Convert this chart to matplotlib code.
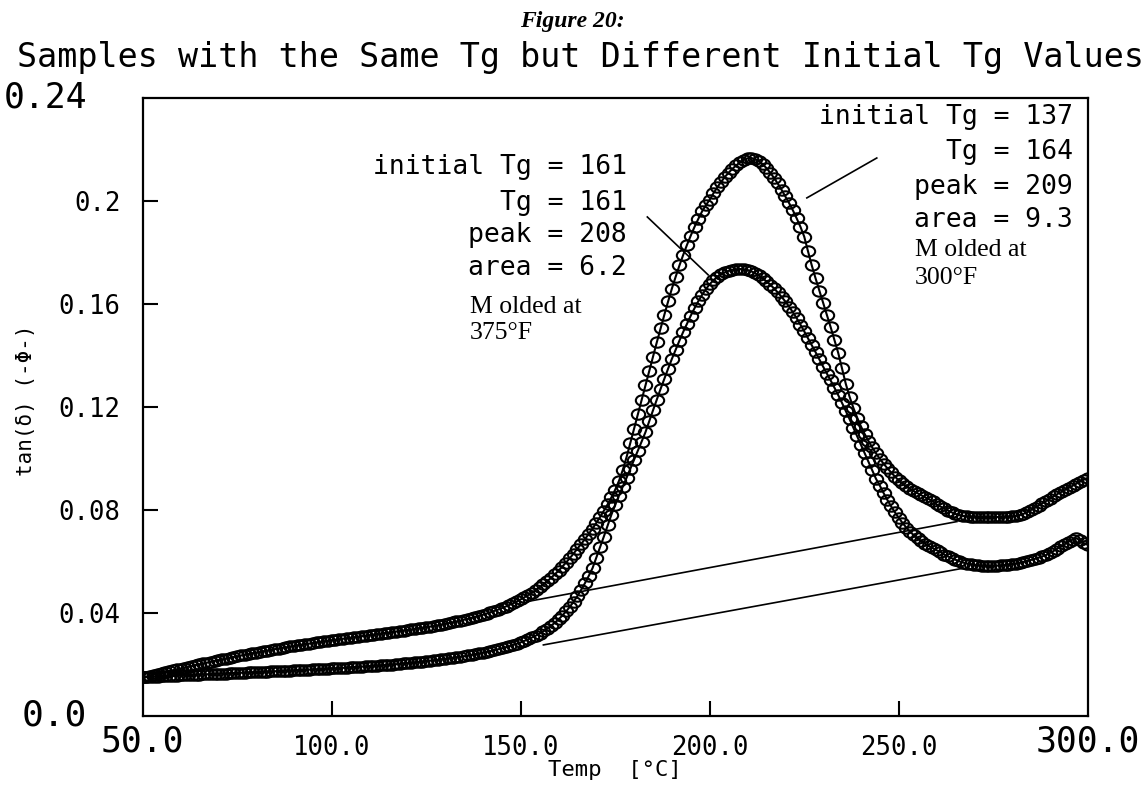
import matplotlib
matplotlib.use("Agg")
import matplotlib.pyplot as plt
from matplotlib.path import Path
from matplotlib.markers import MarkerStyle
from matplotlib.transforms import Affine2D

# ---------------- data ----------------
temp_c = list(range(50, 301))

# initial Tg = 137, molded at 300F (upper curve)
tan_delta_300F = [
    0.0150, 0.0153, 0.0157, 0.0160, 0.0164, 0.0167, 0.0171, 0.0174, 0.0178, 0.0181,  # 50
    0.0184, 0.0188, 0.0191, 0.0194, 0.0198, 0.0201, 0.0204, 0.0207, 0.0211, 0.0214,  # 60
    0.0217, 0.0220, 0.0223, 0.0226, 0.0229, 0.0232, 0.0235, 0.0238, 0.0241, 0.0244,  # 70
    0.0246, 0.0249, 0.0252, 0.0254, 0.0257, 0.0260, 0.0262, 0.0265, 0.0267, 0.0270,  # 80
    0.0272, 0.0274, 0.0277, 0.0279, 0.0281, 0.0283, 0.0286, 0.0288, 0.0290, 0.0292,  # 90
    0.0294, 0.0296, 0.0298, 0.0300, 0.0302, 0.0304, 0.0306, 0.0308, 0.0310, 0.0312,  # 100
    0.0314, 0.0316, 0.0318, 0.0320, 0.0322, 0.0324, 0.0326, 0.0328, 0.0330, 0.0332,  # 110
    0.0334, 0.0336, 0.0338, 0.0340, 0.0343, 0.0345, 0.0347, 0.0350, 0.0352, 0.0355,  # 120
    0.0358, 0.0361, 0.0364, 0.0367, 0.0370, 0.0374, 0.0377, 0.0381, 0.0385, 0.0389,  # 130
    0.0393, 0.0398, 0.0403, 0.0408, 0.0413, 0.0419, 0.0425, 0.0431, 0.0438, 0.0445,  # 140
    0.0453, 0.0461, 0.0470, 0.0479, 0.0489, 0.0500, 0.0511, 0.0523, 0.0536, 0.0550,  # 150
    0.0564, 0.0580, 0.0596, 0.0613, 0.0631, 0.0650, 0.0668, 0.0687, 0.0707, 0.0728,  # 160
    0.0750, 0.0773, 0.0797, 0.0822, 0.0849, 0.0879, 0.0913, 0.0955, 0.1005, 0.1060,  # 170
    0.1116, 0.1172, 0.1228, 0.1284, 0.1340, 0.1396, 0.1451, 0.1505, 0.1558, 0.1610,  # 180
    0.1660, 0.1706, 0.1750, 0.1791, 0.1830, 0.1866, 0.1900, 0.1931, 0.1960, 0.1984,  # 190
    0.2005, 0.2030, 0.2053, 0.2074, 0.2093, 0.2110, 0.2125, 0.2138, 0.2150, 0.2160,  # 200
    0.2166, 0.2167, 0.2163, 0.2155, 0.2143, 0.2128, 0.2110, 0.2090, 0.2068, 0.2044,  # 210
    0.2018, 0.1992, 0.1964, 0.1933, 0.1900, 0.1862, 0.1805, 0.1750, 0.1700, 0.1652,  # 220
    0.1605, 0.1558, 0.1510, 0.1460, 0.1410, 0.1350, 0.1290, 0.1240, 0.1197, 0.1159,  # 230
    0.1125, 0.1095, 0.1068, 0.1043, 0.1020, 0.0999, 0.0980, 0.0962, 0.0946, 0.0930,  # 240
    0.0915, 0.0903, 0.0892, 0.0882, 0.0873, 0.0865, 0.0857, 0.0849, 0.0842, 0.0835,  # 250
    0.0822, 0.0814, 0.0806, 0.0798, 0.0791, 0.0785, 0.0780, 0.0777, 0.0775, 0.0774,  # 260
    0.0773, 0.0773, 0.0773, 0.0773, 0.0773, 0.0773, 0.0773, 0.0773, 0.0773, 0.0774,  # 270
    0.0775, 0.0777, 0.0780, 0.0785, 0.0792, 0.0800, 0.0808, 0.0817, 0.0826, 0.0835,  # 280
    0.0844, 0.0853, 0.0862, 0.0870, 0.0878, 0.0886, 0.0894, 0.0902, 0.0910, 0.0918,  # 290
    0.0925,                                                                          # 300
]

# initial Tg = 161, molded at 375F (lower curve)
tan_delta_375F = [
    0.0150, 0.0151, 0.0152, 0.0153, 0.0153, 0.0154, 0.0155, 0.0156, 0.0156, 0.0157,  # 50
    0.0158, 0.0158, 0.0159, 0.0160, 0.0160, 0.0161, 0.0162, 0.0162, 0.0163, 0.0164,  # 60
    0.0164, 0.0165, 0.0165, 0.0166, 0.0167, 0.0167, 0.0168, 0.0168, 0.0169, 0.0170,  # 70
    0.0170, 0.0171, 0.0172, 0.0172, 0.0173, 0.0174, 0.0174, 0.0175, 0.0176, 0.0176,  # 80
    0.0177, 0.0178, 0.0178, 0.0179, 0.0180, 0.0181, 0.0181, 0.0182, 0.0183, 0.0184,  # 90
    0.0185, 0.0185, 0.0186, 0.0187, 0.0188, 0.0189, 0.0190, 0.0191, 0.0192, 0.0193,  # 100
    0.0194, 0.0195, 0.0196, 0.0197, 0.0198, 0.0199, 0.0200, 0.0201, 0.0203, 0.0204,  # 110
    0.0205, 0.0207, 0.0208, 0.0210, 0.0211, 0.0213, 0.0215, 0.0216, 0.0218, 0.0220,  # 120
    0.0222, 0.0224, 0.0226, 0.0228, 0.0230, 0.0232, 0.0235, 0.0237, 0.0240, 0.0243,  # 130
    0.0246, 0.0249, 0.0252, 0.0256, 0.0259, 0.0263, 0.0267, 0.0271, 0.0276, 0.0281,  # 140
    0.0286, 0.0292, 0.0298, 0.0305, 0.0312, 0.0320, 0.0329, 0.0339, 0.0350, 0.0362,  # 150
    0.0375, 0.0390, 0.0406, 0.0424, 0.0444, 0.0466, 0.0490, 0.0516, 0.0544, 0.0574,  # 160
    0.0615, 0.0655, 0.0697, 0.0740, 0.0782, 0.0820, 0.0856, 0.0890, 0.0925, 0.0960,  # 170
    0.0995, 0.1030, 0.1066, 0.1102, 0.1145, 0.1187, 0.1229, 0.1270, 0.1310, 0.1349,  # 180
    0.1387, 0.1423, 0.1458, 0.1492, 0.1524, 0.1555, 0.1584, 0.1611, 0.1636, 0.1658,  # 190
    0.1677, 0.1692, 0.1705, 0.1715, 0.1723, 0.1729, 0.1733, 0.1735, 0.1736, 0.1735,  # 200
    0.1732, 0.1727, 0.1720, 0.1711, 0.1700, 0.1688, 0.1675, 0.1661, 0.1645, 0.1628,  # 210
    0.1610, 0.1590, 0.1568, 0.1545, 0.1520, 0.1494, 0.1467, 0.1440, 0.1413, 0.1385,  # 220
    0.1357, 0.1330, 0.1303, 0.1275, 0.1246, 0.1216, 0.1185, 0.1153, 0.1120, 0.1087,  # 230
    0.1054, 0.1020, 0.0987, 0.0954, 0.0921, 0.0895, 0.0866, 0.0839, 0.0814, 0.0791,  # 240
    0.0770, 0.0750, 0.0732, 0.0716, 0.0702, 0.0690, 0.0679, 0.0669, 0.0660, 0.0652,  # 250
    0.0644, 0.0637, 0.0627, 0.0620, 0.0613, 0.0607, 0.0601, 0.0596, 0.0592, 0.0589,  # 260
    0.0587, 0.0585, 0.0584, 0.0583, 0.0583, 0.0583, 0.0584, 0.0585, 0.0586, 0.0588,  # 270
    0.0590, 0.0592, 0.0595, 0.0598, 0.0602, 0.0606, 0.0610, 0.0615, 0.0620, 0.0625,  # 280
    0.0633, 0.0641, 0.0650, 0.0659, 0.0668, 0.0677, 0.0685, 0.0690, 0.0683, 0.0670,  # 290
    0.0665,                                                                          # 300
]

# peak-area baselines (straight tangent lines)
baseline_300F_t = [151.6, 265.4]
baseline_300F_v = [0.0444, 0.0755]
baseline_375F_t = [156.0, 267.1]
baseline_375F_v = [0.0276, 0.0574]

# leader lines from the labels to the curves
leader_375F_t = [183.5, 199.6]
leader_375F_v = [0.1938, 0.1713]
leader_300F_t = [244.2, 225.7]
leader_300F_v = [0.2167, 0.2012]

x_ticks = [100, 150, 200, 250]
x_tick_labels = ["100.0", "150.0", "200.0", "250.0"]
y_ticks = [0.04, 0.08, 0.12, 0.16, 0.2]
y_tick_labels = ["0.04", "0.08", "0.12", "0.16", "0.2"]
x_end_labels = ["50.0", "300.0"]
y_end_labels = ["0.0", "0.24"]

labels_375F = ["initial Tg = 161", "Tg = 161", "peak = 208", "area = 6.2"]
labels_300F = ["initial Tg = 137", "Tg = 164", "peak = 209", "area = 9.3"]

# ---------------- figure ----------------
W, H = 1146, 794
fig = plt.figure(figsize=(W / 100, H / 100), dpi=100)
MONO = ["DejaVu Sans Mono", "DejaVu Sans"]
SERIF = "Liberation Serif"

def fx(px):
    return px / W

def fy(py):
    return 1 - py / H

x_left, x_right, y_top, y_bot = 142.7, 1087.7, 98, 716
ax = fig.add_axes([fx(x_left), fy(y_bot), fx(x_right) - fx(x_left), fy(y_top) - fy(y_bot)])
ax.set_xlim(50, 300)
ax.set_ylim(0, 0.24)

ell = Path.unit_circle().transformed(Affine2D().scale(1.0, 0.78))
mk = MarkerStyle(ell)

for series in (tan_delta_300F, tan_delta_375F):
    ax.plot(temp_c, series, color="black", lw=1.5, marker=mk, ms=9.6,
            mfc="none", mec="black", mew=1.5, zorder=3)

ax.plot(baseline_300F_t, baseline_300F_v, color="black", lw=1.2, zorder=2)
ax.plot(baseline_375F_t, baseline_375F_v, color="black", lw=1.2, zorder=2)
ax.plot(leader_375F_t, leader_375F_v, color="black", lw=1.2)
ax.plot(leader_300F_t, leader_300F_v, color="black", lw=1.2)

for s in ax.spines.values():
    s.set_linewidth(1.6)

ax.set_xticks(x_ticks)
ax.set_xticklabels(x_tick_labels, family=MONO, fontsize=18.5)
ax.set_yticks(y_ticks)
ax.set_yticklabels(y_tick_labels, family=MONO, fontsize=18.5)
ax.tick_params(axis="both", direction="in", length=11, width=1.5)
ax.tick_params(axis="x", pad=14)
ax.tick_params(axis="y", pad=16)

# larger end labels at the corners
ax.annotate(x_end_labels[0], xy=(50, 0), xytext=(0, -18), textcoords="offset points",
            ha="center", va="center", family=MONO, fontsize=25)
ax.annotate(x_end_labels[1], xy=(300, 0), xytext=(0, -18), textcoords="offset points",
            ha="center", va="center", family=MONO, fontsize=25)
ax.annotate(y_end_labels[0], xy=(50, 0), xytext=(-40, 0), textcoords="offset points",
            ha="right", va="center", family=MONO, fontsize=26, annotation_clip=False)
ax.annotate(y_end_labels[1], xy=(50, 0.24), xytext=(-40, 0), textcoords="offset points",
            ha="right", va="center", family=MONO, fontsize=25, annotation_clip=False)

# titles and axis labels
fig.text(fx(572), fy(21), "Figure 20:", ha="center", va="center",
         family=SERIF, fontweight="bold", style="italic", fontsize=17)
fig.text(fx(580), fy(58), "Samples with the Same Tg but Different Initial Tg Values",
         ha="center", va="center", family=MONO, fontsize=24)
fig.text(fx(615), fy(770), "Temp  [°C]", ha="center", va="center", family=MONO, fontsize=16)
fig.text(fx(26), fy(400), "tan(δ) (-Φ-)", ha="center", va="center", rotation=90,
         family=MONO, fontsize=15)

# annotation blocks
for txt, py in zip(labels_375F, [167, 203, 235, 268]):
    fig.text(fx(627), fy(py), txt, ha="right", va="center", family=MONO, fontsize=19)
for txt, py in zip(labels_300F, [117, 152, 187, 220]):
    fig.text(fx(1073), fy(py), txt, ha="right", va="center", family=MONO, fontsize=19)

fig.text(fx(470), fy(307), "M olded at", ha="left", va="center", family=SERIF, fontsize=18.5)
fig.text(fx(470), fy(333), "375°F", ha="left", va="center", family=SERIF, fontsize=18.5)
fig.text(fx(915), fy(250), "M olded at", ha="left", va="center", family=SERIF, fontsize=18.5)
fig.text(fx(915), fy(278), "300°F", ha="left", va="center", family=SERIF, fontsize=18.5)

fig.savefig("out.png", dpi=100)
